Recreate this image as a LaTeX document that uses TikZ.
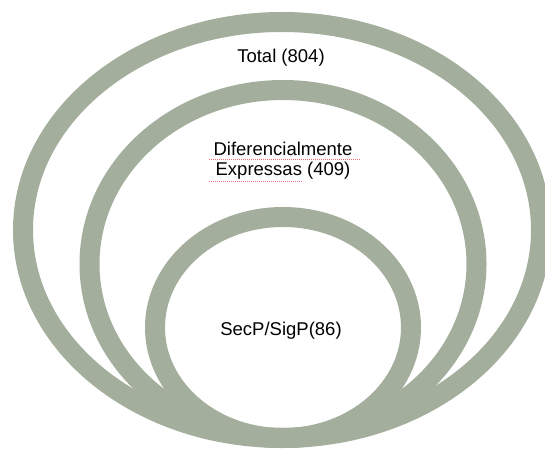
\documentclass[tikz,border=0pt]{standalone}
\usepackage{fontspec}
\setmainfont{Liberation Sans}
\definecolor{ringgray}{RGB}{163,174,156}
\definecolor{spellred}{RGB}{235,110,125}
\begin{document}
\begin{tikzpicture}[x=1pt,y=1pt,
  ring/.style={draw=ringgray,line width=20pt},
  lbl/.style={font=\fontsize{18.5}{20}\selectfont,inner sep=0pt,text=black},
  squiggle/.style={draw=spellred,line width=1pt,dash pattern=on 1pt off 1pt}]
\useasboundingbox (0,0) rectangle (545,450);
\draw[ring] (282,220) ellipse [x radius=259,y radius=208];
\draw[ring] (283,186) ellipse [x radius=193.5,y radius=174];
\draw[ring] (283,122.5) ellipse [x radius=128,y radius=110.5];
\node[lbl,anchor=base] (total) at (281,387) {Total (804)};
\node[lbl,align=center] (dif) at (283,289) {Diferencialmente\\Expressas (409)};
\node[lbl,anchor=base] (sec) at (281,115) {SecP/SigP(86)};
\draw[squiggle] (209,290.5) -- (360,290.5);
\draw[squiggle] (209,268.5) -- (303,268.5);
\end{tikzpicture}
\end{document}
